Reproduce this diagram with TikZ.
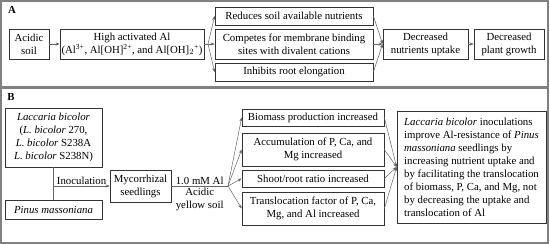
\documentclass[tikz,border=0pt]{standalone}
\usepackage{fontspec}
\setmainfont{Liberation Serif}
\usetikzlibrary{arrows.meta}
\begin{document}
\begin{tikzpicture}[x=1pt,y=-1pt,
  txt/.style={font=\fontsize{10.8}{13}\selectfont},
  box/.style={txt, draw=black!80, line width=0.7pt, inner sep=1pt, align=center},
  conn/.style={draw=black!60, line width=0.5pt},
  arr/.style={conn, -{Stealth[length=4pt,width=3.2pt]}},
  panel/.style={draw=black!50, line width=1.2pt},
  lab/.style={font=\fontsize{10.8}{13}\selectfont\bfseries}]
\useasboundingbox (0,0) rectangle (550,244);
\draw[panel] (1,1) rectangle (548,87);
\draw[panel] (1,88.5) rectangle (548,243);
% Panel A
\node[lab] (la) at (12,10) {A};
\node[box, minimum width=40pt, minimum height=30pt] (acid) at (29,44) {Acidic\\soil};
\node[box, minimum width=144pt, minimum height=30pt] (high) at (132,44) {High activated Al\\(Al\textsuperscript{3+}, Al[OH]\textsuperscript{2+}, and Al[OH]$_2$\textsuperscript{+})};
\node[box, minimum width=158pt, minimum height=18pt] (red) at (294,16) {Reduces soil available nutrients};
\node[box, minimum width=158pt, minimum height=30pt] (comp) at (294,44) {Competes for membrane binding\\sites with divalent cations};
\node[box, minimum width=158pt, minimum height=18pt] (inh) at (294,72) {Inhibits root elongation};
\node[box, minimum width=85pt, minimum height=30pt] (dnu) at (425.5,44) {Decreased\\nutrients uptake};
\node[box, minimum width=70pt, minimum height=30pt] (dpg) at (509,44) {Decreased\\plant growth};
\coordinate (fanA) at (208,44);
\draw[arr] (acid) -- (high);
\draw[conn] (high.east) -- (fanA);
\draw[arr] (fanA) -- (red.west);
\draw[arr] (fanA) -- (comp.west);
\draw[arr] (fanA) -- (inh.west);
\draw[arr] (red.east) -- (dnu.west);
\draw[arr] (comp.east) -- (dnu.west);
\draw[arr] (inh.east) -- (dnu.west);
\draw[arr] (dnu) -- (dpg);
% Panel B
\node[lab] (lb) at (11,97) {B};
\node[box, minimum width=97pt, minimum height=59pt] (lac) at (53.5,137.5) {\textit{Laccaria bicolor}\\(\textit{L. bicolor} 270,\\\textit{L. bicolor} S238A\\\textit{L. bicolor} S238N)};
\node[box, minimum width=97pt, minimum height=19pt] (pin) at (53.5,209.5) {\textit{Pinus massoniana}};
\node[box, minimum width=61pt, minimum height=32pt] (myc) at (140.5,186) {Mycorrhizal\\seedlings};
\coordinate (inoc) at (53.5,186);
\draw[conn] (lac.south) -- (pin.north);
\draw[arr] (inoc) -- node[txt, above, inner sep=1.5pt] (tinoc) {Inoculation} (myc.west);
\coordinate (fanB) at (228,186);
\draw[conn] (myc.east) -- node[txt, above, inner sep=1.5pt] (tal) {1.0 mM Al} node[txt, below, align=center, inner sep=1.5pt] (tsoil) {Acidic\\yellow soil} (fanB);
\node[box, minimum width=142pt, minimum height=17pt] (bio) at (313,117.5) {Biomass production increased};
\node[box, minimum width=142pt, minimum height=33pt] (acc) at (313,149.5) {Accumulation of P, Ca, and\\Mg increased};
\node[box, minimum width=142pt, minimum height=17pt] (sho) at (313,178.5) {Shoot/root ratio increased};
\node[box, minimum width=142pt, minimum height=33pt] (tra) at (313,208.5) {Translocation factor of P, Ca,\\Mg, and Al increased};
\node[box, align=left, minimum width=149pt, minimum height=112pt, inner xsep=4pt] (fin) at (471.5,167) {\textit{Laccaria bicolor} inoculations\\improve Al-resistance of \textit{Pinus}\\\textit{massoniana} seedlings by\\increasing nutrient uptake and\\by facilitating the translocation\\of biomass, P, Ca, and Mg, not\\by decreasing the uptake and\\translocation of Al};
\draw[arr] (fanB) -- (bio.west);
\draw[arr] (fanB) -- (acc.west);
\draw[arr] (fanB) -- (sho.west);
\draw[arr] (fanB) -- (tra.west);
\draw[arr] (bio.east) -- (fin.west);
\draw[arr] (acc.east) -- (fin.west);
\draw[arr] (sho.east) -- (fin.west);
\draw[arr] (tra.east) -- (fin.west);
\end{tikzpicture}
\end{document}
